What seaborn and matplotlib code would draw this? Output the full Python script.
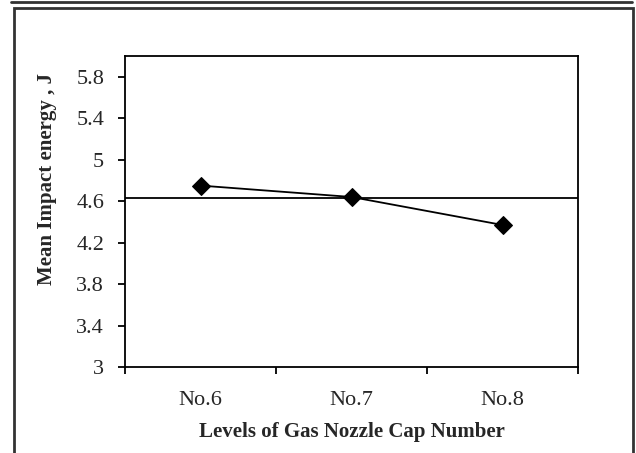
import matplotlib
matplotlib.use("Agg")
import matplotlib.pyplot as plt
import seaborn as sns
import pandas as pd
from matplotlib.patches import Rectangle
from matplotlib.lines import Line2D

levels = ["No.6", "No.7", "No.8"]
mean_energy = [4.75, 4.64, 4.37]
overall_mean = 4.63
y_ticks = [3, 3.4, 3.8, 4.2, 4.6, 5, 5.4, 5.8]
y_tick_labels = ["3", "3.4", "3.8", "4.2", "4.6", "5", "5.4", "5.8"]
x_label = "Levels of Gas Nozzle Cap Number"
y_label = "Mean Impact energy , J"

sns.set_theme(style="white")
plt.rcParams["font.family"] = ["Liberation Serif", "DejaVu Serif"]

fig = plt.figure(figsize=(6.36, 4.53), dpi=100)
ax = fig.add_axes([125/636, 1 - 367/453, (578 - 125)/636, (367 - 56)/453])

df = pd.DataFrame({"level": levels, "energy": mean_energy})
df["pos"] = range(len(levels))
sns.lineplot(data=df, x="pos", y="energy", ax=ax, color="black", linewidth=1.3,
             marker="D", markersize=9, markeredgecolor="black", markerfacecolor="black")
ax.axhline(overall_mean, color="black", linewidth=1.3, zorder=1)

ax.set_xlim(-0.5, len(levels) - 0.5)
ax.set_ylim(3, 6)
ax.set_yticks(y_ticks)
ax.set_yticklabels(y_tick_labels, fontsize=16)
ax.set_xticks([i - 0.5 for i in range(len(levels) + 1)])
ax.set_xticklabels([""] * (len(levels) + 1))
ax.set_xticks(list(range(len(levels))), minor=True)
ax.set_xticklabels(levels, minor=True, fontsize=16)
ax.tick_params(axis="x", which="minor", length=0, pad=17)
ax.tick_params(axis="both", which="major", direction="out", length=5, width=1.3,
               color="black", left=True, bottom=True)
ax.tick_params(axis="y", pad=10)
for s in ax.spines.values():
    s.set_visible(True)
    s.set_color("black")
    s.set_linewidth(1.3)
ax.set_xlabel(x_label, fontsize=15, fontweight="bold", labelpad=9)
ax.set_ylabel(y_label, fontsize=15, fontweight="bold")
ax.yaxis.set_label_coords((57 - 125) / 453, (367 - 179) / 311)

# outer chart frame
fig.patches.append(Rectangle((13.5/636, -0.05), (633 - 13.5)/636, 1.05 - 8/453,
                             transform=fig.transFigure, fill=False,
                             edgecolor="#333333", linewidth=2))
fig.lines.append(Line2D([11/636, 632/636], [1 - 2/453, 1 - 2/453],
                        transform=fig.transFigure, color="#333333", linewidth=2))

fig.savefig("out.png", dpi=100)
